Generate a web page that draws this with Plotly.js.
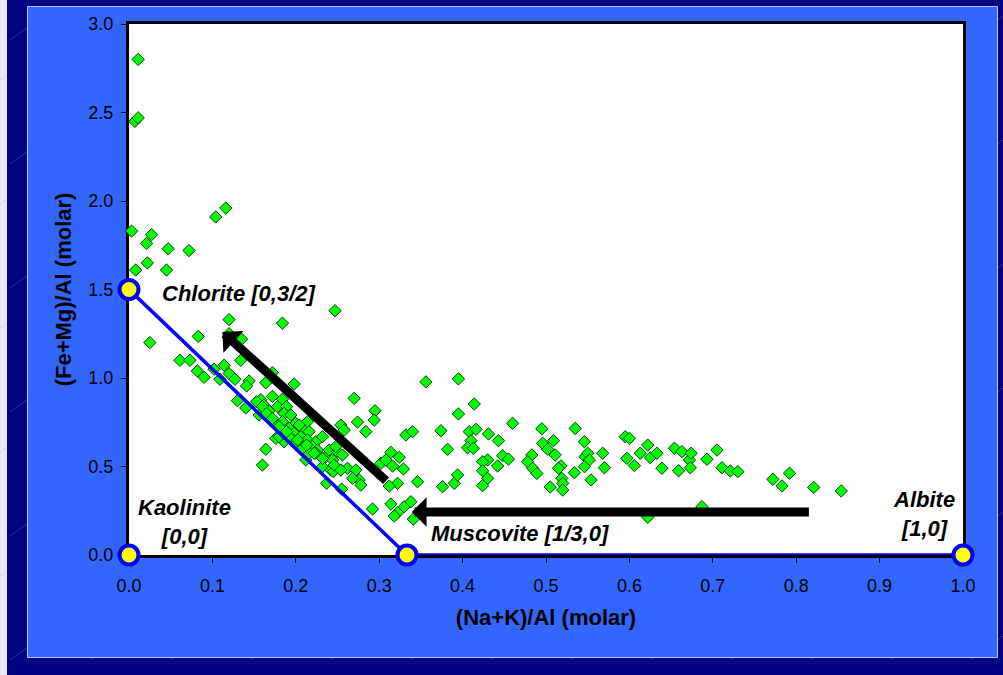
<!DOCTYPE html>
<html>
<head>
<meta charset="utf-8">
<script src="https://cdn.plot.ly/plotly-3.0.1.min.js"></script>
<style>
  html, body { margin: 0; padding: 0; background: #000080; overflow: hidden; }
  #chart { width: 1003px; height: 675px; }
</style>
</head>
<body>
<div id="chart"></div>
<script>
// Sample compositions, molar (Na+K)/Al
const sampleNaK = [
  0.011, 0.007, 0.011, 0.104, 0.116, 0.003, 0.027, 0.021, 0.047, 0.072, 0.022, 0.008, 0.045,
  0.247, 0.120, 0.184, 0.083, 0.025, 0.120, 0.135, 0.061, 0.073, 0.134,
  0.082, 0.090, 0.102, 0.114, 0.120, 0.127, 0.109, 0.144, 0.141, 0.164, 0.172, 0.198,
  0.130, 0.140, 0.158, 0.172, 0.184, 0.162, 0.168, 0.178, 0.189, 0.156, 0.166, 0.174, 0.186,
  0.194, 0.184, 0.200, 0.192, 0.208, 0.214, 0.198, 0.206, 0.216, 0.214, 0.224, 0.232, 0.220,
  0.226, 0.236, 0.244, 0.240, 0.250, 0.254, 0.258, 0.176, 0.186, 0.164, 0.160, 0.232, 0.242,
  0.237, 0.255, 0.212, 0.216, 0.200, 0.208, 0.192, 0.180, 0.204, 0.224, 0.248, 0.256, 0.262,
  0.272, 0.276, 0.268, 0.278, 0.245,
  0.153, 0.160, 0.165, 0.172, 0.180, 0.189, 0.202, 0.213, 0.222, 0.232, 0.246, 0.254,
  0.270, 0.295, 0.294, 0.274, 0.284, 0.356, 0.395, 0.414, 0.395, 0.460, 0.332, 0.340, 0.374,
  0.408, 0.416, 0.431, 0.443, 0.410, 0.406, 0.413, 0.382, 0.314, 0.324, 0.302, 0.308, 0.316,
  0.329, 0.322, 0.312, 0.346, 0.376, 0.390, 0.394, 0.292, 0.314, 0.322, 0.330, 0.338, 0.341,
  0.318,
  0.448, 0.455, 0.430, 0.424, 0.442, 0.424, 0.430, 0.424, 0.495, 0.535, 0.546, 0.496, 0.502,
  0.509, 0.483, 0.478, 0.484, 0.489, 0.511, 0.518, 0.515, 0.534, 0.519, 0.520, 0.520, 0.505,
  0.547, 0.550, 0.552, 0.546, 0.554, 0.568, 0.570, 0.595, 0.600, 0.597, 0.606, 0.613, 0.622,
  0.625, 0.633, 0.639, 0.654, 0.663, 0.659, 0.672, 0.674, 0.673, 0.693, 0.705, 0.711, 0.721,
  0.730, 0.772, 0.783, 0.792, 0.821, 0.854, 0.687, 0.622
];

// Sample compositions, molar (Fe+Mg)/Al
const sampleFeMg = [
  2.80, 2.45, 2.47, 1.91, 1.96, 1.83, 1.81, 1.76, 1.73, 1.72, 1.65, 1.61, 1.61,
  1.38, 1.33, 1.31, 1.235, 1.20, 1.25, 1.22, 1.10, 1.10, 1.10,
  1.04, 1.004, 1.05, 1.072, 1.025, 0.993, 0.993, 0.983, 0.955, 0.973, 1.03, 0.966,
  0.872, 0.831, 0.878, 0.896, 0.880, 0.847, 0.815, 0.838, 0.838, 0.791, 0.781, 0.753, 0.800,
  0.791, 0.753, 0.744, 0.716, 0.725, 0.753, 0.688, 0.668, 0.697, 0.650, 0.640, 0.668, 0.612,
  0.593, 0.555, 0.537, 0.593, 0.584, 0.734, 0.706, 0.659, 0.640, 0.597, 0.508, 0.499, 0.480,
  0.405, 0.372, 0.537, 0.575, 0.631, 0.603, 0.668, 0.668, 0.734, 0.575, 0.612, 0.565, 0.490,
  0.480, 0.424, 0.433, 0.395, 0.471,
  0.866, 0.838, 0.800, 0.772, 0.725, 0.697, 0.650, 0.621, 0.575, 0.546, 0.508, 0.480,
  0.885, 0.815, 0.762, 0.751, 0.697, 0.978, 0.995, 0.853, 0.797, 0.744, 0.678, 0.697, 0.702,
  0.697, 0.710, 0.684, 0.646, 0.646, 0.606, 0.603, 0.597, 0.580, 0.552, 0.518, 0.537, 0.503,
  0.486, 0.405, 0.390, 0.414, 0.386, 0.405, 0.452, 0.260, 0.288, 0.239, 0.273, 0.301, 0.203,
  0.220,
  0.561, 0.542, 0.537, 0.527, 0.503, 0.476, 0.433, 0.392, 0.713, 0.715, 0.640, 0.631, 0.597,
  0.646, 0.565, 0.527, 0.490, 0.461, 0.565, 0.503, 0.490, 0.465, 0.433, 0.405, 0.367, 0.384,
  0.555, 0.575, 0.537, 0.499, 0.424, 0.575, 0.493, 0.668, 0.659, 0.546, 0.505, 0.575, 0.621,
  0.550, 0.575, 0.490, 0.603, 0.584, 0.476, 0.537, 0.575, 0.493, 0.541, 0.593, 0.493, 0.475,
  0.471, 0.428, 0.390, 0.462, 0.382, 0.362, 0.273, 0.213
];

// End-member minerals: chlorite -> muscovite -> albite tie line, plus kaolinite
const tieLineNaK = [0, 1 / 3, 1];
const tieLineFeMg = [1.5, 0, 0];
const kaoliniteNaK = [0];
const kaoliniteFeMg = [0];

// Axis ticks
const xTicks = [0, 0.1, 0.2, 0.3, 0.4, 0.5, 0.6, 0.7, 0.8, 0.9, 1.0];
const yTicks = [0, 0.5, 1.0, 1.5, 2.0, 2.5, 3.0];

const FONT = 'Liberation Sans, Arial, Helvetica, sans-serif';

// Page frame: plot area spans 129..963 px horizontally, 24..555 px vertically
const M = { l: 129, r: 40, t: 24, b: 120 };
const W = 1003, H = 675;
const PW = W - M.l - M.r, PH = H - M.t - M.b;
const px = v => (v - M.l) / PW;
const py = v => (H - M.b - v) / PH;

const shapes = [
  // light strip at the far left edge
  { type: 'rect', xref: 'paper', yref: 'paper', x0: px(0), x1: px(7), y0: py(0), y1: py(H),
    fillcolor: '#e8e8f0', line: { width: 0 }, layer: 'below' }
];

// faint diagonal hatch on the dark backdrop
for (let row = -1; row < 12; row++) {
  for (let col = -1; col < 14; col++) {
    const x0 = col * 80 + (row % 2) * 40 + 10;
    const y0 = row * 62 + 40;
    shapes.push({ type: 'line', xref: 'paper', yref: 'paper',
      x0: px(x0), y0: py(y0), x1: px(x0 + 36), y1: py(y0 - 26),
      line: { color: 'rgba(150,160,230,0.3)', width: 1 }, layer: 'below' });
  }
}

// blue panel, then the white plotting area on top of it
shapes.push({ type: 'rect', xref: 'paper', yref: 'paper',
  x0: px(27.5), x1: px(997.5), y0: py(6.5), y1: py(657.5),
  fillcolor: '#3366ff', line: { color: '#b8c6ff', width: 1 }, layer: 'below' });
shapes.push({ type: 'rect', xref: 'paper', yref: 'paper', x0: 0, x1: 1, y0: 0, y1: 1,
  fillcolor: '#ffffff', line: { width: 0 }, layer: 'below' });

const traces = [
  {
    type: 'scatter', mode: 'markers', name: 'Samples',
    x: sampleNaK, y: sampleFeMg, cliponaxis: false,
    marker: { symbol: 'diamond', size: 9.5, color: '#00ff00', line: { color: '#0b3a0b', width: 1 } },
    hoverinfo: 'x+y'
  },
  {
    type: 'scatter', mode: 'lines+markers', name: 'Tie line',
    x: tieLineNaK, y: tieLineFeMg, cliponaxis: false,
    line: { color: '#0000ff', width: 3.5 },
    marker: { symbol: 'circle', size: 19, color: '#ffff00', line: { color: '#0000ff', width: 4 } }
  },
  {
    type: 'scatter', mode: 'markers', name: 'Kaolinite',
    x: kaoliniteNaK, y: kaoliniteFeMg, cliponaxis: false,
    marker: { symbol: 'circle', size: 19, color: '#ffff00', line: { color: '#0000ff', width: 4 } }
  }
];

const labelFont = { family: FONT, size: 22, color: '#000000', weight: 'bold', style: 'italic' };

const annotations = [
  { x: 0.0366, y: 1.475, xref: 'x', yref: 'y', text: 'Chlorite [0,3/2]', showarrow: false,
    xanchor: 'left', yanchor: 'middle', font: labelFont },
  { x: 0.0666, y: 0.186, xref: 'x', yref: 'y', text: 'Kaolinite<br>[0,0]', showarrow: false,
    xanchor: 'center', yanchor: 'middle', align: 'center', font: labelFont },
  { x: 0.469, y: 0.124, xref: 'x', yref: 'y', text: 'Muscovite [1/3,0]', showarrow: false,
    xanchor: 'center', yanchor: 'middle', font: labelFont },
  { x: 0.953, y: 0.232, xref: 'x', yref: 'y', text: 'Albite<br>[1,0]', showarrow: false,
    xanchor: 'center', yanchor: 'middle', align: 'center', font: labelFont },
  // weathering trend arrows
  { x: 0.339, y: 0.243, ax: 0.817, ay: 0.243, xref: 'x', yref: 'y', axref: 'x', ayref: 'y',
    text: '', showarrow: true, arrowhead: 1, arrowsize: 0.55, arrowwidth: 9, arrowcolor: '#000000' },
  { x: 0.112, y: 1.26, ax: 0.31, ay: 0.412, xref: 'x', yref: 'y', axref: 'x', ayref: 'y',
    text: '', showarrow: true, arrowhead: 1, arrowsize: 0.55, arrowwidth: 9, arrowcolor: '#000000' }
];

const axisCommon = {
  showgrid: false, zeroline: false, showline: true, mirror: true,
  linecolor: '#000000', linewidth: 3,
  ticks: 'outside', ticklen: 5, tickwidth: 1, tickcolor: '#000000',
  tickfont: { family: FONT, size: 18, color: '#000000' },
  tickformat: '.1f', layer: 'below traces', fixedrange: true
};

const layout = {
  width: W, height: H,
  margin: M,
  paper_bgcolor: '#000080',
  plot_bgcolor: 'rgba(0,0,0,0)',
  showlegend: false,
  xaxis: Object.assign({}, axisCommon, {
    range: [0, 1], tickvals: xTicks, ticklabelstandoff: 7,
    title: { text: '(Na+K)/Al (molar)', standoff: 16,
      font: { family: FONT, size: 22, color: '#000000', weight: 'bold' } }
  }),
  yaxis: Object.assign({}, axisCommon, {
    range: [0, 3], tickvals: yTicks, ticklabelstandoff: 4,
    title: { text: '(Fe+Mg)/Al (molar)', standoff: 11,
      font: { family: FONT, size: 22, color: '#000000', weight: 'bold' } }
  }),
  shapes: shapes,
  annotations: annotations
};

Plotly.newPlot('chart', traces, layout, { displayModeBar: false, staticPlot: true });
</script>
</body>
</html>
